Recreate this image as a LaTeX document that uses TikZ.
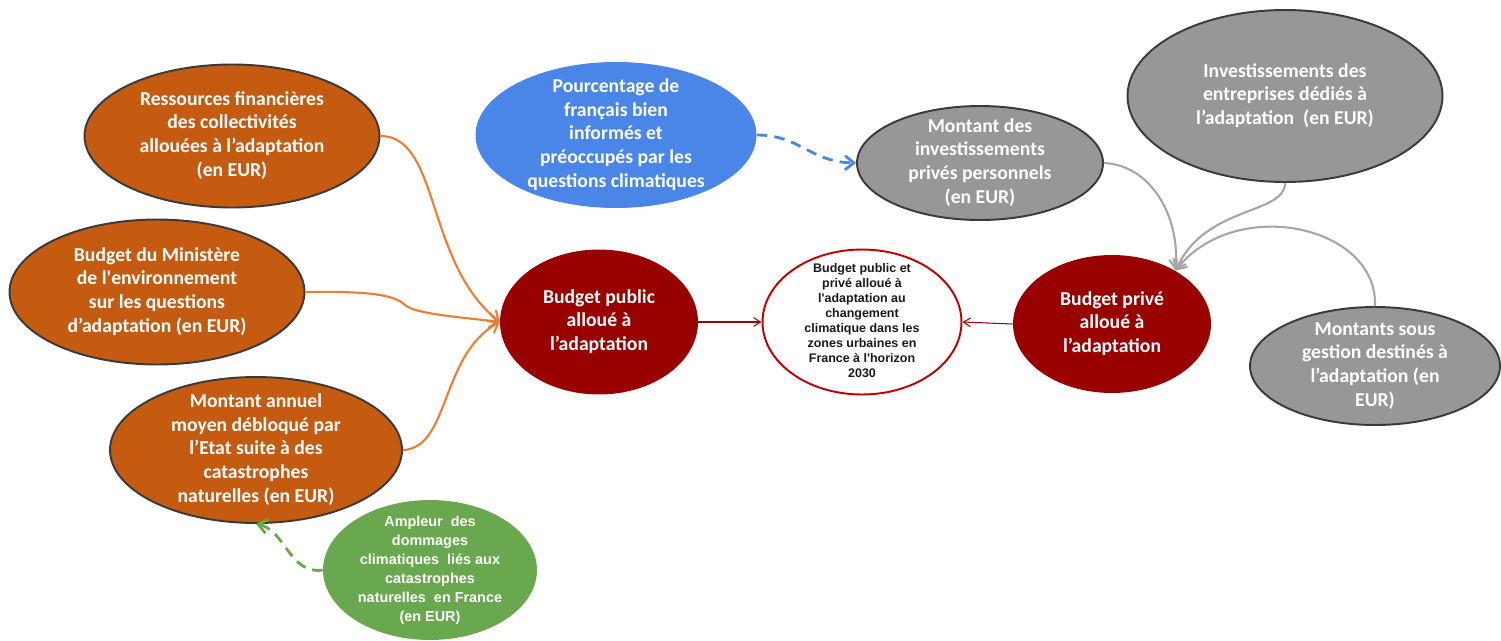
\documentclass[tikz,border=0pt]{standalone}
\usepackage{fontspec}
\setmainfont{Carlito}
\newfontfamily\arialfont{Liberation Sans}
\usetikzlibrary{shapes.geometric,arrows.meta}
\definecolor{rust}{HTML}{C55A11}
\definecolor{wine}{HTML}{990000}
\definecolor{skyblue}{HTML}{4A86E8}
\definecolor{leaf}{HTML}{6AA84F}
\definecolor{stone}{HTML}{979797}
\definecolor{outline}{HTML}{3A3A3A}
\definecolor{crimson}{HTML}{C00000}
\definecolor{darkred}{HTML}{A00000}
\definecolor{edgeorange}{HTML}{ED7D31}
\definecolor{edgegray}{HTML}{A6A6A6}
\newcommand{\elltext}[1]{\smash{\makebox[0pt]{\raisebox{-.25em}{\begin{tabular}{@{}c@{}}#1\end{tabular}}}}}
\begin{document}
\begin{tikzpicture}[x=0.02cm,y=0.02cm,
  ell/.style={ellipse,inner sep=0pt,font=\bfseries\fontsize{11.2}{13.6}\selectfont},
  orangenode/.style={ell,fill=rust,draw=outline,line width=1.1pt,text=white},
  graynode/.style={ell,fill=stone,draw=outline,line width=1.1pt,text=white},
  rednode/.style={ell,fill=wine,text=white},
  bluenode/.style={ell,fill=skyblue,text=white},
  greennode/.style={ell,fill=leaf,text=white,font=\arialfont\bfseries\fontsize{8.2}{10.8}\selectfont},
  targetnode/.style={ell,fill=white,draw=crimson,line width=1.1pt,text=black!90,font=\arialfont\bfseries\fontsize{7.1}{8.5}\selectfont},
  orangeline/.style={draw=edgeorange,line width=1.2pt,-{Straight Barb[length=5pt,width=8pt]}},
  grayline/.style={draw=edgegray,line width=1.2pt,-{Straight Barb[length=5pt,width=8pt]}},
  bluedash/.style={draw=skyblue,line width=1.6pt,dash pattern=on 6pt off 4pt,-{Straight Barb[length=5pt,width=8pt]}},
  greendash/.style={draw=leaf,line width=1.6pt,dash pattern=on 6pt off 4pt,-{Straight Barb[length=5pt,width=8pt]}},
  redline/.style={draw=darkred,line width=0.6pt,-{Straight Barb[length=4pt,width=5pt]}}]
\useasboundingbox (0,0) rectangle (1501,-640);
\node[orangenode,minimum width=5.9cm,minimum height=2.86cm] (res) at (232,-136) {\elltext{Ressources financières\\des collectivités\\allouées à l’adaptation\\(en EUR)}};
\node[orangenode,minimum width=5.9cm,minimum height=2.9cm] (min) at (157,-292) {\elltext{Budget du Ministère\\de l\textquotesingle environnement\\sur les questions\\d’adaptation (en EUR)}};
\node[orangenode,minimum width=5.84cm,minimum height=2.92cm] (mont) at (256,-450) {\elltext{Montant annuel\\moyen débloqué par\\l’Etat suite à des\\catastrophes\\naturelles (en EUR)}};
\node[greennode,minimum width=4.28cm,minimum height=2.8cm] (amp) at (430,-570) {\elltext{Ampleur~ des\\dommages\\climatiques~ liés aux\\catastrophes\\naturelles~ en France\\(en EUR)}};
\node[bluenode,minimum width=5.62cm,minimum height=2.92cm] (pct) at (616,-135) {\elltext{Pourcentage de\\français bien\\informés et\\préoccupés par les\\questions climatiques}};
\node[rednode,minimum width=3.96cm,minimum height=2.9cm] (pub) at (599,-322) {\elltext{Budget public\\alloué à\\l’adaptation}};
\node[targetnode,minimum width=3.98cm,minimum height=2.9cm] (cen) at (862,-322) {\elltext{Budget public et\\privé alloué à\\l\textquotesingle adaptation au\\changement\\climatique dans les\\zones urbaines en\\France à l\textquotesingle horizon\\2030}};
\node[rednode,minimum width=3.96cm,minimum height=2.76cm] (priv) at (1112,-324) {\elltext{Budget privé\\alloué à\\l’adaptation}};
\node[graynode,minimum width=4.92cm,minimum height=2.28cm] (pers) at (980,-163) {\elltext{Montant des\\investissements\\privés personnels\\(en EUR)}};
\node[graynode,minimum width=6.3cm,minimum height=3.44cm] (entr) at (1285,-96) {\elltext{Investissements des\\entreprises dédiés à\\l’adaptation~ (en EUR)}};
\node[graynode,minimum width=5cm,minimum height=2.36cm] (gest) at (1375,-366) {\elltext{Montants sous\\gestion destinés à\\l’adaptation (en\\EUR)}};
\coordinate (tip) at (priv.40);
\draw[orangeline] (res.east) .. controls (440,-136) and (425,-262) .. (pub.west);
\draw[orangeline] (min.east) .. controls (370,-291) and (395,-295) .. (405,-305) .. controls (415,-314) and (460,-317) .. (pub.west);
\draw[orangeline] (mont.east) .. controls (450,-448) and (440,-355) .. (pub.west);
\draw[greendash] (amp.west) .. controls (290,-575) and (285,-530) .. (mont.south);
\draw[bluedash] (pct.east) .. controls (800,-135) and (810,-162) .. (pers.west);
\draw[redline] (pub.east) -- (cen.west);
\draw[redline] (priv.west) -- (cen.east);
\draw[grayline] (pers.east) .. controls (1150,-165) and (1180,-215) .. (tip);
\draw[grayline] (entr.south) .. controls (1285,-215) and (1205,-205) .. (tip);
\draw[grayline] (gest.north) .. controls (1378,-225) and (1235,-195) .. (tip);
\end{tikzpicture}
\end{document}
